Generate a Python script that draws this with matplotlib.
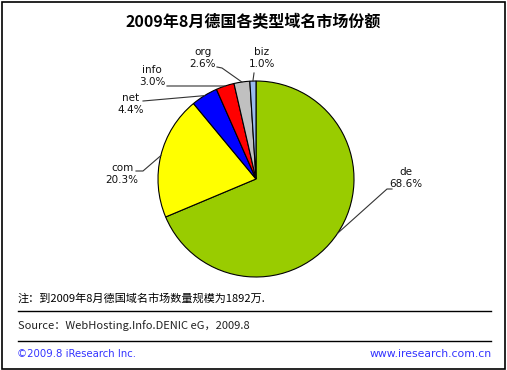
import numpy as np
import matplotlib.pyplot as plt
from matplotlib.patches import Rectangle

# data (clockwise from 12 o'clock)
domains = ['de', 'com', 'net', 'info', 'org', 'biz']
shares = [68.6, 20.3, 4.4, 3.0, 2.6, 1.0]
colors = ['#99CC00', '#FFFF00', '#0000FF', '#FF0000', '#C0C0C0', '#99BBEE']

title = '2009年8月德国各类型域名市场份额'
note = '注：到2009年8月德国域名市场数量规模为1892万.'
source = 'Source：WebHosting.Info.DENIC eG，2009.8'
copyright_txt = '©2009.8 iResearch Inc.'
site = 'www.iresearch.com.cn'

W, H = 507, 370
cjk = ['Noto Sans CJK SC', 'DejaVu Sans']


def py(y):
    # pixel row (from top) -> data y
    return H - y


fig = plt.figure(figsize=(W / 100, H / 100), dpi=100)
ax = fig.add_axes([0, 0, 1, 1])

cx, cy, r = 256, 179, 98
wedges, _ = ax.pie(shares, colors=colors, startangle=90, counterclock=False,
                   center=(cx, py(cy)), radius=r,
                   wedgeprops=dict(edgecolor='black', linewidth=0.8))
ax.set_xlim(0, W)
ax.set_ylim(0, H)
ax.set_aspect('auto')
ax.axis('off')

# label layout: text centre, leader start, optional elbow
layout = {
    'de':   ((406, 178), (392, 189), (387, 189)),
    'com':  ((122, 174), (136, 171), (143, 171)),
    'net':  ((131, 104), (143, 101), None),
    'info': ((152, 76), (167, 86), None),
    'org':  ((203, 58), (217, 67), (222, 68)),
    'biz':  ((262, 58), (254, 73), None),
}

for w, name, val in zip(wedges, domains, shares):
    mid = np.deg2rad((w.theta1 + w.theta2) / 2)
    ex, ey = cx + r * np.cos(mid), py(cy) + r * np.sin(mid)
    (tx, ty), (sx, sy), elbow = layout[name]
    xs, ys = [sx], [py(sy)]
    if elbow is not None:
        xs.append(elbow[0])
        ys.append(py(elbow[1]))
    xs.append(ex)
    ys.append(ey)
    ax.plot(xs, ys, color='#333333', lw=0.8, zorder=5)
    ax.text(tx, py(ty), f'{name}\n{val:.1f}%', ha='center', va='center',
            fontsize=7.5, color='#111111', linespacing=1.35)

ax.text(W / 2, py(22), title, ha='center', va='center', fontsize=11.5,
        fontweight='bold', family=cjk)

ax.text(18, py(298), note, ha='left', va='center', fontsize=8, family=cjk)
ax.plot([18, 491], [py(311), py(311)], color='black', lw=1)
ax.text(18, py(326), source, ha='left', va='center', fontsize=8, family=cjk,
        color='#222222')
ax.plot([18, 491], [py(341), py(341)], color='black', lw=1)
ax.text(17, py(354), copyright_txt, ha='left', va='center', fontsize=7.3,
        color='#3333FF')
ax.text(492, py(354), site, ha='right', va='center', fontsize=7.8,
        color='#3333FF')

ax.add_patch(Rectangle((1.5, 1.5), W - 3.5, H - 3.5, fill=False,
                       edgecolor='black', lw=1.2))

fig.savefig('out.png', dpi=100, facecolor='white')
